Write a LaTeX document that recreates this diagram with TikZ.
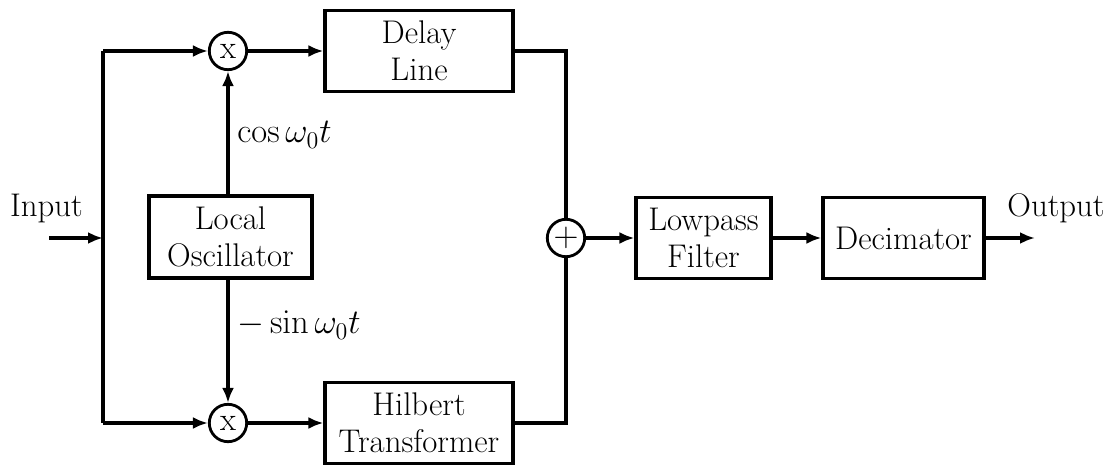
\documentclass[tikz,border=0pt]{standalone}
\usetikzlibrary{arrows.meta}
\begin{document}
\begin{tikzpicture}[x=0.5pt,y=-0.5pt,
  every node/.style={font=\fontsize{16.4}{18.5}\selectfont},
  blk/.style={draw,line width=1.6pt,align=center,inner sep=0pt,minimum height=40.5pt},
  mix/.style={draw,circle,line width=1.4pt,inner sep=0pt,minimum size=18.7pt},
  wire/.style={line width=1.6pt},
  arr/.style={wire,-{Latex[length=7.5pt,width=6pt]}},
  lbl/.style={inner sep=0pt}
]
\useasboundingbox (0,0) rectangle (1116,465);
% coordinates
\coordinate (in) at (49,238);
\coordinate (jin) at (103,238);
\coordinate (jtop) at (103,51);
\coordinate (jbot) at (103,423);
\coordinate (out) at (1035,238);
% nodes
\node[mix] (m1) at (228,51) {x};
\node[mix] (m2) at (228,423) {x};
\node[blk,minimum width=94pt] (delay) at (419,51) {Delay\\Line};
\node[blk,minimum width=94pt] (hilb) at (419,423) {Hilbert\\Transformer};
\node[blk,minimum width=81.5pt,minimum height=41pt] (lo) at (230.5,237) {Local\\Oscillator};
\node[mix] (add) at (566,238) {$+$};
\node[blk,minimum width=67.5pt] (lp) at (703.5,238) {Lowpass\\Filter};
\node[blk,minimum width=80.5pt] (dec) at (903.5,238) {Decimator};
\node[lbl,anchor=base] (inlbl) at (46.5,217) {Input};
\node[lbl,anchor=base] (outlbl) at (1056,217) {Output};
\node[lbl,anchor=base west] (coslbl) at (237,143) {$\cos\omega_0 t$};
\node[lbl,anchor=base west] (sinlbl) at (237,334) {$-\sin\omega_0 t$};
% connectors
\draw[arr] (in) -- (jin);
\draw[wire] (jtop) -- (jbot);
\draw[arr] (jtop) -- (m1);
\draw[arr] (jbot) -- (m2);
\draw[arr] (m1) -- (delay);
\draw[arr] (m2) -- (hilb);
\draw[arr] (m1 |- lo.north) -- (m1);
\draw[arr] (m2 |- lo.south) -- (m2);
\draw[wire] (delay.east) -| (add.north);
\draw[wire] (hilb.east) -| (add.south);
\draw[arr] (add) -- (lp);
\draw[arr] (lp) -- (dec);
\draw[arr] (dec) -- (out);
\end{tikzpicture}
\end{document}
